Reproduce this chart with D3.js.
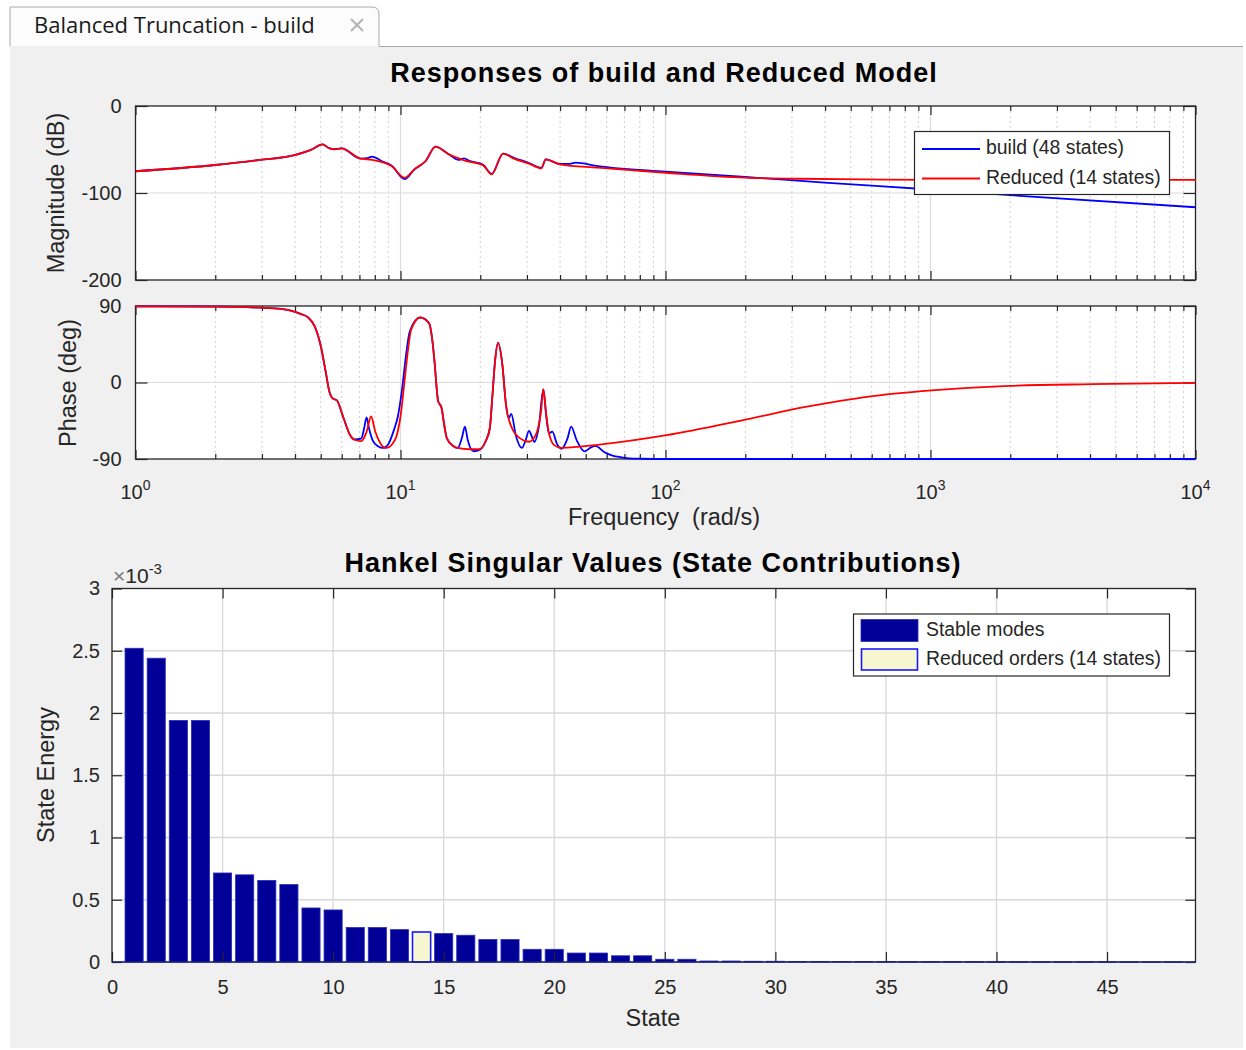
<!DOCTYPE html>
<html><head><meta charset="utf-8">
<script src="https://cdn.jsdelivr.net/npm/d3@7/dist/d3.min.js"></script>
<style>
body{margin:0;background:#fff;}
svg{display:block;}
text{font-family:"Liberation Sans",Arial,Helvetica,sans-serif;fill:#262626;}
</style></head><body>
<svg id="c" width="1246" height="1050"></svg>
<script>
// ---------------- DATA ----------------
const decadeTicks = [1, 10, 100, 1000, 10000];
const decadeExps = ["0", "1", "2", "3", "4"];
const magTicks = [-200, -100, 0];
const phaseTicks = [-90, 0, 90];

// Magnitude (dB) vs log10(frequency) — build (48 states)
const buildMagLogW = [0,0.3,0.47,0.6,0.662,0.706,0.73,0.75,0.777,0.85,0.875,0.893,0.93,0.966,1.016,1.052,1.095,1.132,1.182,1.22,1.24,1.26,1.312,1.344,1.387,1.428,1.485,1.532,1.548,1.601,1.64,1.66,1.745,2.0,2.3,2.6,3.0,3.3,4.0];
const buildMagDb   = [-75,-67.8,-62,-56.5,-50.5,-44,-48.5,-49.7,-48.6,-60.5,-60,-58.2,-63.5,-68.5,-84,-73,-63.2,-46.6,-55.5,-62,-60.2,-63,-67.5,-78,-54.7,-59.5,-65.5,-71,-61.3,-66.5,-66.5,-65,-69,-75.5,-81.6,-88,-96,-102.5,-116.4];
// Magnitude — Reduced (14 states)
const redMagLogW = [0,0.3,0.47,0.6,0.662,0.706,0.73,0.75,0.777,0.85,0.893,0.966,1.016,1.052,1.095,1.132,1.182,1.24,1.312,1.344,1.387,1.428,1.485,1.532,1.548,1.601,1.745,2.0,2.3,2.5,2.75,3.0,3.5,4.0];
const redMagDb   = [-75,-67.8,-62,-56.5,-50.5,-44,-48.5,-49.7,-48.6,-60.5,-61.8,-69,-82.5,-72.8,-63.2,-46.6,-55.5,-62.4,-68.2,-78.6,-54.7,-60.5,-66.3,-71.7,-61.3,-67,-70.9,-76.7,-82.3,-83.6,-84.4,-84.8,-85,-85];

// Phase (deg) — build
const buildPhLogW = [0,0.3,0.47,0.55,0.596,0.625,0.65,0.677,0.697,0.717,0.731,0.744,0.76,0.785,0.81,0.825,0.852,0.862,0.872,0.882,0.895,0.915,0.935,0.955,0.975,0.99,1.005,1.02,1.035,1.074,1.108,1.12,1.128,1.142,1.155,1.165,1.175,1.2,1.216,1.232,1.243,1.254,1.276,1.3,1.32,1.337,1.347,1.357,1.368,1.384,1.398,1.408,1.418,1.435,1.458,1.472,1.485,1.495,1.505,1.522,1.539,1.55,1.56,1.573,1.59,1.607,1.63,1.644,1.665,1.694,1.72,1.735,1.77,1.8,1.835,1.863,1.91,2.0,4.0];
const buildPhDeg  = [89.5,89.2,88,86.5,83.7,80.5,76.9,65.7,45.8,13.9,-10,-18.7,-21,-41.8,-62,-67,-66,-55,-41,-55,-68,-75,-77,-72,-56,-40,-10,30,60,76.5,69.7,50,25.9,-21.9,-29.9,-50,-65.7,-75,-77,-65,-51.8,-68,-80.9,-79,-70,-53.8,-15,25.9,46.6,21.9,-25.9,-42,-37,-62,-77,-68,-57,-63,-70,-52,-8,-40,-60,-57.8,-72,-78,-66,-52,-68,-81,-76,-74.5,-82,-86,-88,-89.3,-89.7,-90,-90];
// Phase — Reduced
const redPhLogW = [0,0.3,0.47,0.55,0.596,0.625,0.65,0.677,0.697,0.717,0.731,0.744,0.76,0.785,0.81,0.825,0.852,0.872,0.889,0.905,0.925,0.946,0.97,0.986,1.0,1.014,1.027,1.04,1.074,1.108,1.12,1.128,1.142,1.155,1.165,1.175,1.2,1.216,1.26,1.297,1.32,1.337,1.347,1.357,1.368,1.384,1.398,1.418,1.451,1.485,1.51,1.519,1.53,1.539,1.549,1.559,1.58,1.607,1.758,2.004,2.297,2.528,2.759,3.005,3.298,3.606,4.0];
const redPhDeg  = [89.5,89.2,88,86.5,83.7,80.5,76.9,65.7,45.8,13.9,-10,-18.7,-21,-41.8,-62,-67,-69,-58,-40,-58,-72,-77,-72,-62,-40,-2,35,62,76.5,69.7,50,25.9,-21.9,-29.9,-50,-65.7,-75,-77,-78.5,-78.5,-70,-53.8,-15,25.9,46.6,21.9,-25.9,-51.8,-65.7,-69.7,-62,-53.8,-35,-8,-35,-57.8,-73.7,-76.9,-72.8,-62,-44,-28.8,-16.8,-9.2,-4,-2,-0.5];

// Hankel singular values (x 1e-3) for states 1..48
const hsv = [2.52,2.44,1.94,1.94,0.715,0.70,0.655,0.622,0.434,0.418,0.277,0.277,0.26,0.241,0.228,0.215,0.18,0.18,0.102,0.102,0.072,0.072,0.05,0.05,0.022,0.022,0.008,0.008,0.006,0.006,0.005,0.005,0.004,0.004,0.004,0.003,0.003,0.003,0.003,0.002,0.002,0.002,0.002,0.002,0.002,0.001,0.001,0.001];
const reducedOrder = 14;
const barXTicks = [0,5,10,15,20,25,30,35,40,45];
const barYTicks = [0,0.5,1,1.5,2,2.5,3];

// ---------------- DRAW ----------------
const svg = d3.select("#c");
svg.append("rect").attr("width",1246).attr("height",1050).attr("fill","#ffffff");
svg.append("rect").attr("x",10).attr("y",46).attr("width",1233).attr("height",1002).attr("fill","#f0f0f0");

// tab
svg.append("path").attr("d","M10,46 L10,7 L372,7 Q379,7 379,14 L379,46")
  .attr("fill","#fcfcfc").attr("stroke","#a9a9a9").attr("stroke-width",1);
svg.append("line").attr("x1",379).attr("x2",1243).attr("y1",46.5).attr("y2",46.5).attr("stroke","#a9a9a9");
svg.append("text").attr("x",34).attr("y",33).text("Balanced Truncation - build")
  .style("font-family","'Open Sans','Noto Sans',sans-serif").style("font-size","22px").style("fill","#1a1a1a");
const cx=357, cy=25;
svg.append("path").attr("d",`M${cx-6},${cy-6}L${cx+6},${cy+6}M${cx+6},${cy-6}L${cx-6},${cy+6}`)
  .attr("stroke","#b5b5b5").attr("stroke-width",2.2);

const X0=135.5, X1=1195.5;
const xScale = d3.scaleLog().domain([1,1e4]).range([X0,X1]);
const magY = d3.scaleLinear().domain([-200,0]).range([280,106]);
const phY = d3.scaleLinear().domain([-90,90]).range([459,306]);
const plainFmt = d => String(d);

const minorVals = [];
for (let d=0; d<4; d++) for (let k=2;k<=9;k++) minorVals.push(k*Math.pow(10,d));

function bodePanel(yScale, yTicks, showXLabels){
  const [yb, yt] = yScale.range();
  const g = svg.append("g");
  g.append("rect").attr("x",X0).attr("y",yt).attr("width",X1-X0).attr("height",yb-yt).attr("fill","#fff");
  g.selectAll(".mg").data(minorVals).join("line")
    .attr("x1",d=>xScale(d)).attr("x2",d=>xScale(d)).attr("y1",yt).attr("y2",yb)
    .attr("stroke","#cfcfcf").attr("stroke-width",1).attr("stroke-dasharray","2,3");
  g.selectAll(".Mg").data(decadeTicks.slice(1,-1)).join("line")
    .attr("x1",d=>xScale(d)).attr("x2",d=>xScale(d)).attr("y1",yt).attr("y2",yb)
    .attr("stroke","#dcdcdc").attr("stroke-width",1.2);
  g.selectAll(".hg").data(yTicks.slice(1,-1)).join("line")
    .attr("x1",X0).attr("x2",X1).attr("y1",d=>yScale(d)).attr("y2",d=>yScale(d))
    .attr("stroke","#dcdcdc").attr("stroke-width",1.2);
  const axB = d3.axisBottom(xScale).tickValues(decadeTicks).tickFormat("").tickSizeInner(-9).tickSizeOuter(0);
  const axBm = d3.axisBottom(xScale).tickValues(minorVals).tickFormat("").tickSizeInner(-5).tickSizeOuter(0);
  const axT = d3.axisTop(xScale).tickValues(decadeTicks).tickFormat("").tickSizeInner(-9).tickSizeOuter(0);
  const axTm = d3.axisTop(xScale).tickValues(minorVals).tickFormat("").tickSizeInner(-5).tickSizeOuter(0);
  const axL = d3.axisLeft(yScale).tickValues(yTicks).tickSizeInner(-12).tickSizeOuter(0).tickPadding(14).tickFormat(plainFmt);
  const axR = d3.axisRight(yScale).tickValues(yTicks).tickFormat("").tickSizeInner(-12).tickSizeOuter(0);
  [[axB,`translate(0,${yb})`],[axBm,`translate(0,${yb})`],[axT,`translate(0,${yt})`],[axTm,`translate(0,${yt})`],
   [axL,`translate(${X0},0)`],[axR,`translate(${X1},0)`]].forEach(([ax,tr])=>{
    const a = g.append("g").attr("transform",tr).call(ax);
    a.select(".domain").remove();
    a.selectAll("line").attr("stroke","#262626").attr("stroke-width",1.2);
    a.selectAll("text").style("font-size","20px").attr("fill","#262626").style("font-family","'Liberation Sans',Arial,sans-serif");
  });
  g.append("rect").attr("x",X0).attr("y",yt).attr("width",X1-X0).attr("height",yb-yt)
    .attr("fill","none").attr("stroke","#262626").attr("stroke-width",1.3);
  if (showXLabels){
    decadeTicks.forEach((t,i)=>{
      const tx = g.append("text").attr("x",xScale(t)).attr("y",yb+40).attr("text-anchor","middle").style("font-size","20px");
      tx.append("tspan").text("10");
      tx.append("tspan").attr("dy",-9).style("font-size","14px").text(decadeExps[i]);
    });
  }
  return g;
}

bodePanel(magY, magTicks, false);
bodePanel(phY, phaseTicks, true);

function drawCurve(logW, vals, yScale, color){
  const pts = logW.map((lw,i)=>[Math.pow(10,lw), vals[i]]);
  const line = d3.line().x(d=>xScale(d[0])).y(d=>yScale(d[1])).curve(d3.curveMonotoneX);
  svg.append("path").datum(pts).attr("d",line).attr("fill","none").attr("stroke",color).attr("stroke-width",1.8);
}
drawCurve(buildMagLogW, buildMagDb, magY, "#0000ff");
drawCurve(redMagLogW, redMagDb, magY, "#ff0000");
drawCurve(buildPhLogW, buildPhDeg, phY, "#0000ff");
drawCurve(redPhLogW, redPhDeg, phY, "#ff0000");

// labels
svg.append("text").attr("x",664).attr("y",75).attr("text-anchor","middle").attr("dominant-baseline","middle")
  .style("font-size","27px").style("font-weight","bold").style("letter-spacing","1px").style("fill","#000").text("Responses of build and Reduced Model");
svg.append("text").attr("transform","translate(58,193) rotate(-90)").attr("text-anchor","middle").attr("dominant-baseline","middle")
  .style("font-size","23.5px").text("Magnitude (dB)");
svg.append("text").attr("transform","translate(70,383) rotate(-90)").attr("text-anchor","middle").attr("dominant-baseline","middle")
  .style("font-size","23.5px").text("Phase (deg)");
svg.append("text").attr("x",664).attr("y",519).attr("text-anchor","middle").attr("dominant-baseline","middle")
  .style("font-size","23.5px").style("white-space","pre").text("Frequency  (rad/s)");

// magnitude legend
const lg = svg.append("g");
lg.append("rect").attr("x",914.5).attr("y",131.5).attr("width",255).attr("height",63).attr("fill","#fff").attr("stroke","#262626").attr("stroke-width",1.2);
[["build (48 states)","#0000ff",149],["Reduced (14 states)","#ff0000",178.5]].forEach(([t,c,y])=>{
  lg.append("line").attr("x1",922).attr("x2",980).attr("y1",y).attr("y2",y).attr("stroke",c).attr("stroke-width",1.8);
  lg.append("text").attr("x",986).attr("y",y).attr("dominant-baseline","middle").style("font-size","19.4px").text(t);
});

// ---------------- BAR CHART ----------------
const BX0=112, BX1=1195.5, BY0=962, BY1=588.5;
const xB = d3.scaleLinear().domain([0,49]).range([BX0,BX1]);
const yB = d3.scaleLinear().domain([0,3]).range([BY0,BY1]);
const bg = svg.append("g");
bg.append("rect").attr("x",BX0).attr("y",BY1).attr("width",BX1-BX0).attr("height",BY0-BY1).attr("fill","#fff");
bg.selectAll(".vg").data(barXTicks.slice(1)).join("line")
  .attr("x1",d=>xB(d)).attr("x2",d=>xB(d)).attr("y1",BY1).attr("y2",BY0).attr("stroke","#d8d8d8").attr("stroke-width",1.3);
bg.selectAll(".hg").data(barYTicks.slice(1,-1)).join("line")
  .attr("x1",BX0).attr("x2",BX1).attr("y1",d=>yB(d)).attr("y2",d=>yB(d)).attr("stroke","#d8d8d8").attr("stroke-width",1.3);

const bw = 0.82;
bg.selectAll(".bar").data(hsv).join("rect")
  .attr("x",(d,i)=>xB(i+1-bw/2)).attr("width",xB(bw)-xB(0))
  .attr("y",d=>yB(d)).attr("height",d=>Math.max(0.5,yB(0)-yB(d)))
  .attr("fill",(d,i)=> i+1===reducedOrder ? "#f6f6d0" : "#000099")
  .attr("stroke",(d,i)=> i+1===reducedOrder ? "#1a1aff" : "#2b2bb8")
  .attr("stroke-width",(d,i)=> i+1===reducedOrder ? 1.6 : 0.8);

const bAxB = d3.axisBottom(xB).tickValues(barXTicks).tickSizeInner(-10).tickSizeOuter(0).tickPadding(18).tickFormat(plainFmt);
const bAxT = d3.axisTop(xB).tickValues(barXTicks).tickSizeInner(-10).tickSizeOuter(0).tickFormat("");
const bAxL = d3.axisLeft(yB).tickValues(barYTicks).tickSizeInner(-10).tickSizeOuter(0).tickPadding(12).tickFormat(plainFmt);
const bAxR = d3.axisRight(yB).tickValues(barYTicks).tickSizeInner(-10).tickSizeOuter(0).tickFormat("");
[[bAxB,`translate(0,${BY0})`],[bAxT,`translate(0,${BY1})`],[bAxL,`translate(${BX0},0)`],[bAxR,`translate(${BX1},0)`]].forEach(([ax,tr])=>{
  const a = bg.append("g").attr("transform",tr).call(ax);
  a.select(".domain").remove();
  a.selectAll("line").attr("stroke","#262626").attr("stroke-width",1.2);
  a.selectAll("text").style("font-size","20px").attr("fill","#262626").style("font-family","'Liberation Sans',Arial,sans-serif");
});
bg.append("rect").attr("x",BX0).attr("y",BY1).attr("width",BX1-BX0).attr("height",BY0-BY1)
  .attr("fill","none").attr("stroke","#262626").attr("stroke-width",1.3);
bg.append("line").attr("x1",BX0).attr("x2",BX1).attr("y1",BY0).attr("y2",BY0).attr("stroke","#1c1ca8").attr("stroke-width",1.2);

// exponent label
const ex = svg.append("text").attr("x",113).attr("y",583).style("font-size","21px");
ex.append("tspan").style("fill","#777").text("\u00d7");
ex.append("tspan").text("10");
ex.append("tspan").attr("dy",-9).style("font-size","15px").text("-3");

svg.append("text").attr("x",653).attr("y",565).attr("text-anchor","middle").attr("dominant-baseline","middle")
  .style("font-size","27px").style("font-weight","bold").style("letter-spacing","1px").style("fill","#000").text("Hankel Singular Values (State Contributions)");
svg.append("text").attr("x",653).attr("y",1020).attr("text-anchor","middle").attr("dominant-baseline","middle")
  .style("font-size","23.5px").text("State");
svg.append("text").attr("transform","translate(48,775) rotate(-90)").attr("text-anchor","middle").attr("dominant-baseline","middle")
  .style("font-size","23.5px").text("State Energy");

// bar legend
const bl = svg.append("g");
bl.append("rect").attr("x",853.5).attr("y",614).attr("width",316).attr("height",62).attr("fill","#fff").attr("stroke","#262626").attr("stroke-width",1.2);
bl.append("rect").attr("x",861).attr("y",619.5).attr("width",57).attr("height",22).attr("fill","#000099").attr("stroke","#2b2bb8").attr("stroke-width",0.8);
bl.append("rect").attr("x",861.5).attr("y",649).attr("width",56).attr("height",21).attr("fill","#f6f6d0").attr("stroke","#1a1aff").attr("stroke-width",1.6);
bl.append("text").attr("x",926).attr("y",631).attr("dominant-baseline","middle").style("font-size","19.4px").text("Stable modes");
bl.append("text").attr("x",926).attr("y",660).attr("dominant-baseline","middle").style("font-size","19.4px").text("Reduced orders (" + reducedOrder + " states)");
</script>
</body></html>
